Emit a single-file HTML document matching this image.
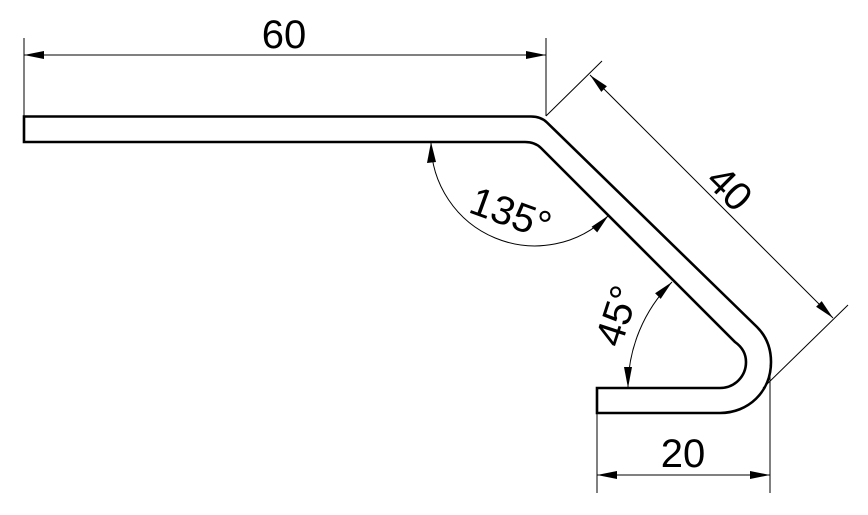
<!DOCTYPE html>
<html><head><meta charset="utf-8"><style>
html,body{margin:0;padding:0;background:#fff;width:868px;height:515px;overflow:hidden}
svg{display:block}
text{font-family:"Liberation Sans",sans-serif;font-size:40px;fill:#000}
</style></head><body>
<svg width="868" height="515" viewBox="0 0 868 515" xmlns="http://www.w3.org/2000/svg">
<g fill="none" stroke="#000" stroke-width="1">
<line x1="24" y1="38" x2="24" y2="116"/>
<line x1="546" y1="38" x2="546" y2="116"/>
<line x1="24" y1="55" x2="546" y2="55"/>
<line x1="546" y1="116" x2="602" y2="61"/>
<line x1="763" y1="388" x2="848" y2="305"/>
<line x1="590" y1="75" x2="833" y2="318"/>
<line x1="597" y1="390" x2="597" y2="493"/>
<line x1="770" y1="365" x2="770" y2="493"/>
<line x1="597" y1="475" x2="770" y2="475"/>
<path d="M431,142 A104,104 0 0 0 608.5,215.5"/>
<path d="M628,388 A150,150 0 0 1 672,282"/>
</g>
<path d="M24,116.5 L531,116.5 Q541,116.5 547,122.5 L757,327 C768,338 771,350 771,362 C771,392 748,413 720,413 L597,413 L597,388 L720,388 C735,388 746,376 746,362 C746,354 742,347 735,342 L541,148 Q535,142 525,142 L24,142 Z" fill="none" stroke="#000" stroke-width="2.6"/>
<g fill="#000">
<polygon points="24,55 44,51 44,59"/>
<polygon points="546,55 526,51 526,59"/>
<polygon points="597,475 617,471 617,479"/>
<polygon points="770,475 750,471 750,479"/>
<polygon points="590,75 606.9,86.3 601.3,91.9"/>
<polygon points="833,318 821.7,301.1 816.1,306.7"/>
<polygon points="431,142 427,163 436,162"/>
<polygon points="608.5,215.5 597.2,232.4 591.6,226.8"/>
<polygon points="628,388 624,367 632,367"/>
<polygon points="672,282 660.7,298.9 655.1,293.3"/>
</g>
<text x="284" y="48" text-anchor="middle">60</text>
<text x="683" y="467" text-anchor="middle">20</text>
<text x="0" y="0" text-anchor="middle" transform="translate(720,198) rotate(45)">40</text>
<text x="0" y="0" text-anchor="middle" transform="translate(506,226) rotate(20)">135°</text>
<text x="0" y="0" text-anchor="middle" transform="translate(630,320) rotate(-72)">45°</text>
</svg>
</body></html>
